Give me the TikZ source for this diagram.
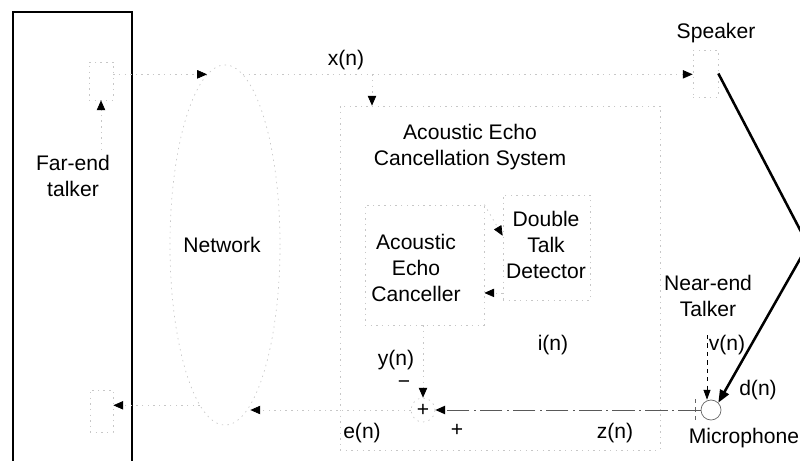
\documentclass[tikz,border=0pt]{standalone}
\usepackage{fontspec}
\setmainfont{Liberation Sans}
\usetikzlibrary{arrows.meta,positioning,fit,calc,shapes.geometric}

\tikzset{
    lbl/.style={font=\fontsize{15}{18.5}\selectfont, align=center, inner sep=1pt},
    faint/.style={draw=black!22, line width=0.5pt, dash pattern=on 1pt off 3pt},
    faintbox/.style={faint, inner sep=0pt},
    farbox/.style={draw, line width=1.4pt, inner sep=0pt},
    netcloud/.style={faint, ellipse, minimum width=2.75cm, minimum height=9cm, inner sep=0pt},
    sumnode/.style={faint, circle, minimum size=0.6cm, inner sep=0pt, font=\fontsize{15}{15}\selectfont},
    micnode/.style={draw=black!60, line width=0.5pt, circle, minimum size=0.5cm, inner sep=0pt},
    sig/.style={faint, -{Triangle[length=7pt,width=6pt,color=black,fill=black]}},
    zline/.style={draw=black!65, line width=0.7pt, dash pattern=on 16pt off 3pt on 1.5pt off 3pt,
        -{Triangle[length=7pt,width=6pt,color=black,fill=black]}},
    vsig/.style={draw=black, line width=0.5pt, dashed, -{Triangle[length=7pt,width=5pt]}},
    echo/.style={draw=black, line width=1.8pt, -{Triangle[length=9pt,width=7pt]}},
}

\begin{document}
\begin{tikzpicture}[x=0.025cm, y=-0.025cm]
\useasboundingbox (0,0) rectangle (800,460);

% far end side
\node[farbox, fit={(13,12) (132,480)}] (far) {};
\node[lbl] (fartxt) at (73,176) {Far-end\\talker};
\node[faintbox, fit={(89,62) (113,100)}] (farmic) {};
\node[faintbox, fit={(90,390) (113,432)}] (farear) {};
\coordinate (farsrc) at (101,150);
\draw[sig] (farsrc) -- (farsrc |- farmic.south);

% network
\node[netcloud] (net) at (225,245) {};
\node[lbl] (nettxt) at (222,245) {Network};

% echo cancellation system
\node[faintbox, fit={(340,106) (660,450)}] (aecs) {};
\node[lbl] (aecstxt) at (470,147) {Acoustic Echo\\Cancellation System};
\node[faintbox, fit={(365,205) (484,325)}] (aec) {};
\node[lbl] (aectxt) at (416,268) {Acoustic\\Echo\\Canceller};
\node[faintbox, fit={(503,195) (590,300)}] (dtd) {};
\node[lbl] (dtdtxt) at (546,245) {Double\\Talk\\Detector};
\node[sumnode] (sum) at (423,410) {+};

% near end side
\node[faintbox, fit={(693,50) (718,97)}] (spk) {};
\node[lbl] (spktxt) at (716,33) {Speaker};
\node[micnode] (mic) at (711,410) {};
\node[lbl] (mictxt) at (744,438) {Microphone};
\node[lbl] (nttxt) at (708,296) {Near-end\\Talker};

% x(n) path
\draw[sig] (farmic.east |- net.96) -- (net.96);
\draw[sig] (net.84) -- (net.84 -| spk.west);
\node[lbl] (xtxt) at (346,60) {x(n)};
\coordinate (xbr) at (372,0);
\draw[sig] (xbr |- net.84) -- (xbr |- aecs.north);

\draw[sig] (aec.north east) -- (dtd.165);
\draw[sig] (dtd.226) -- (dtd.226 -| aec.east);
\node[lbl] (itxt) at (553,345) {i(n)};

% error path
\draw[sig] (aec.south -| sum.north) -- (sum.north);
\node[lbl] (ytxt) at (396,360) {y(n)};
\node[lbl] (minus) at (404,385) {−};
\node[lbl] (plus) at (457,430) {+};
\draw[sig] (sum.west) -- (sum.west -| net.-81);
\node[lbl] (etxt) at (362,433) {e(n)};
\draw[sig] (net.-99) -- (net.-99 -| farear.east);

% microphone signal
\draw[black!60, dashed] ($(mic.west)+(-5,-11)$) -- ($(mic.west)+(-5,11)$);
\draw[zline] (mic.west) -- (sum.east);
\node[lbl] (ztxt) at (615,433) {z(n)};

% echo path and near-end speech
\coordinate (bend) at (808,245);
\draw[echo] (spk.east) -- (bend) -- (mic.north east);
\node[lbl] (dtxt) at (758,390) {d(n)};
\coordinate (vsrc) at (707,335);
\draw[vsig] (vsrc) -- (vsrc |- mic.north);
\node[lbl] (vtxt) at (727,345) {v(n)};
\end{tikzpicture}
\end{document}
